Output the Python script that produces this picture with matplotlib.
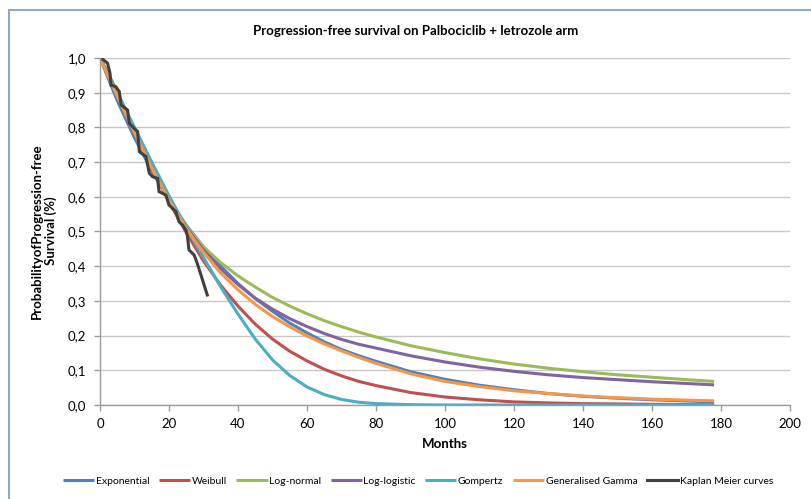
import matplotlib
matplotlib.use("Agg")
import matplotlib.pyplot as plt
from matplotlib.ticker import FuncFormatter, MultipleLocator
from matplotlib.patches import Rectangle

plt.rcParams['font.family'] = ['Lato', 'DejaVu Sans']

# Modelled survival curves (months -> probability)
months = [0, 5, 10, 15, 20, 25, 30, 35, 40, 45, 50, 55, 60, 65, 70, 75, 80,
          90, 100, 110, 120, 130, 140, 150, 160, 170, 178]

exponential = [1.0, 0.877, 0.77, 0.675, 0.592, 0.518, 0.455, 0.40, 0.35, 0.307,
               0.27, 0.236, 0.208, 0.182, 0.16, 0.142, 0.126, 0.096, 0.074,
               0.057, 0.044, 0.033, 0.025, 0.0195, 0.015, 0.0115, 0.009]
weibull = [1.0, 0.90, 0.79, 0.685, 0.585, 0.497, 0.415, 0.345, 0.285, 0.233,
           0.19, 0.155, 0.127, 0.103, 0.084, 0.068, 0.056, 0.036, 0.023,
           0.015, 0.009, 0.006, 0.004, 0.003, 0.002, 0.0012, 0.001]
log_normal = [1.0, 0.905, 0.785, 0.68, 0.59, 0.515, 0.456, 0.41, 0.372, 0.34,
              0.31, 0.285, 0.263, 0.243, 0.226, 0.21, 0.196, 0.171, 0.151,
              0.133, 0.118, 0.106, 0.096, 0.087, 0.08, 0.073, 0.068]
log_logistic = [1.0, 0.90, 0.785, 0.68, 0.59, 0.512, 0.447, 0.392, 0.347,
                0.308, 0.276, 0.249, 0.226, 0.206, 0.189, 0.175, 0.164, 0.142,
                0.124, 0.109, 0.097, 0.087, 0.079, 0.073, 0.067, 0.062, 0.058]
gompertz = [1.0, 0.90, 0.80, 0.70, 0.603, 0.512, 0.425, 0.34, 0.262, 0.19,
            0.13, 0.085, 0.052, 0.03, 0.016, 0.008, 0.004, 0.001, 0.0, 0.0,
            0.0, 0.0, 0.0, 0.0, 0.0, 0.0, 0.0]
gen_gamma = [1.0, 0.89, 0.785, 0.683, 0.59, 0.508, 0.44, 0.38, 0.332, 0.29,
             0.255, 0.225, 0.199, 0.176, 0.156, 0.137, 0.12, 0.09, 0.068,
             0.053, 0.041, 0.033, 0.026, 0.021, 0.017, 0.014, 0.012]

# Kaplan-Meier estimate
km_months = [0.3, 2.2, 2.9, 3.2, 4.6, 5.6, 6.1, 8.0, 8.5, 9.9, 10.9, 11.4,
             13.3, 14.3, 15.2, 16.7, 17.1, 19.1, 20.0, 21.0, 22.0, 22.9, 23.9,
             24.9, 25.3, 25.8, 27.3, 28.2, 31.1]
km_surv = [1.0, 0.985, 0.956, 0.922, 0.917, 0.903, 0.865, 0.85, 0.812, 0.797,
           0.788, 0.73, 0.716, 0.668, 0.658, 0.653, 0.615, 0.605, 0.576, 0.567,
           0.557, 0.528, 0.519, 0.504, 0.49, 0.447, 0.432, 0.408, 0.317]

series_names = ["Exponential", "Weibull", "Log-normal", "Log-logistic",
                "Gompertz", "Generalised Gamma", "Kaplan Meier curves"]
series_colors = ["#4F81BD", "#C0504D", "#9BBB59", "#8064A2", "#4BACC6",
                 "#F79646", "#404040"]

W, H = 812, 499
fig = plt.figure(figsize=(W / 100, H / 100), dpi=100)
fig.patch.set_facecolor("white")

# chart frame
fig.add_artist(Rectangle((9 / W, -0.1), 1.2, 1 - 10 / H + 0.1,
                         transform=fig.transFigure, fill=False,
                         edgecolor="#8EA9C8", linewidth=1.5))

x0, x1, y0, y1 = 100, 790, 405, 58
ax = fig.add_axes([x0 / W, 1 - y0 / H, (x1 - x0) / W, (y0 - y1) / H])

curves = [exponential, weibull, log_normal, log_logistic, gompertz, gen_gamma]
for vals, name, col in zip(curves, series_names[:6], series_colors[:6]):
    ax.plot(months, vals, color=col, lw=2.2, label=name,
            solid_capstyle="butt", solid_joinstyle="round")
ax.plot(km_months, km_surv, color=series_colors[6], lw=2.2,
        label=series_names[6], solid_joinstyle="miter")

ax.set_xlim(0, 200)
ax.set_ylim(0, 1.0)
ax.xaxis.set_major_locator(MultipleLocator(20))
ax.yaxis.set_major_locator(MultipleLocator(0.1))
ax.yaxis.set_major_formatter(FuncFormatter(lambda v, p: f"{v:.1f}".replace(".", ",")))

ax.grid(axis="y", color="#C8C8C8", linewidth=1.0)
ax.set_axisbelow(True)
for s in ["top", "right"]:
    ax.spines[s].set_visible(False)
for s in ["left", "bottom"]:
    ax.spines[s].set_color("#9A9A9A")
    ax.spines[s].set_linewidth(1.0)
ax.tick_params(axis="both", direction="out", length=4, width=1.0,
               color="#9A9A9A", labelsize=9.5, labelcolor="#000000")
ax.tick_params(axis="y", pad=6)
ax.tick_params(axis="x", pad=5)

ax.set_xlabel("Months", fontsize=9.5, fontweight="bold", labelpad=6)
fig.text(44 / W, 1 - 231 / H, "ProbabilityofProgression-free\nSurvival (%)",
         rotation=90, ha="center", va="center", fontsize=9.5,
         fontweight="bold", linespacing=1.15, multialignment="center")

fig.text(416 / W, 1 - 31 / H, "Progression-free survival on Palbociclib + letrozole arm",
         ha="center", va="center", fontsize=9.5, fontweight="bold")

handles, labels = ax.get_legend_handles_labels()
fig.legend(handles, labels, loc="center", bbox_to_anchor=(418 / W, 1 - 481 / H),
           ncol=7, frameon=False, fontsize=7.5, handlelength=3.0,
           handletextpad=0.15, columnspacing=0.9, borderpad=0)

fig.savefig("out.png", dpi=100, facecolor="white")
